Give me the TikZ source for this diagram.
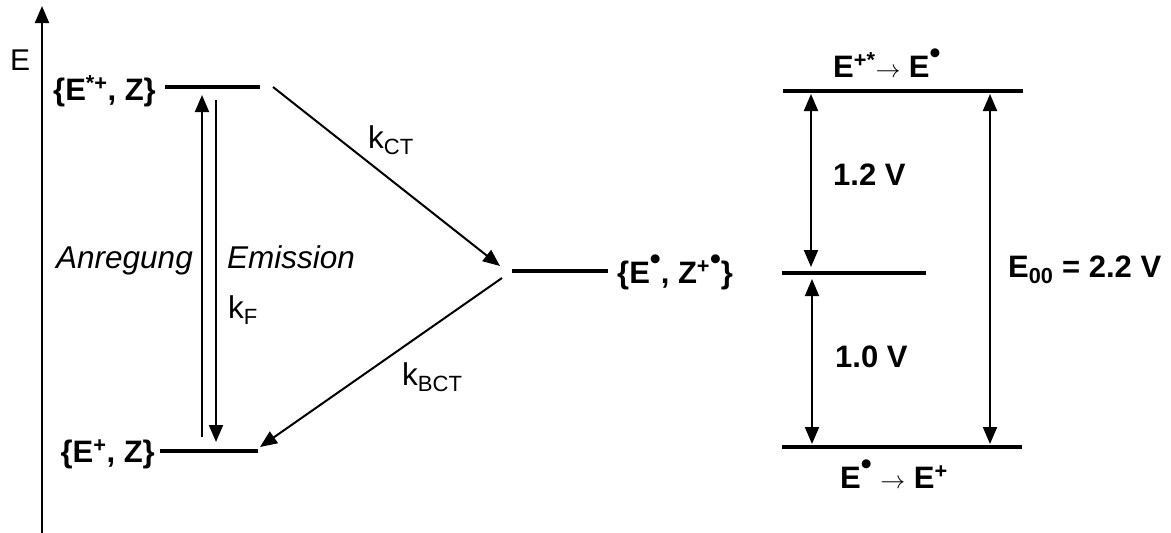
\documentclass[tikz,border=0pt]{standalone}
\usepackage{fontspec}
\setmainfont{Liberation Sans}
\usetikzlibrary{arrows.meta, positioning}
\newcommand{\radot}{\raisebox{0.42em}{\textbullet}}

\begin{document}
\begin{tikzpicture}[
    x=1pt, y=-1pt,
    font=\fontsize{31.5}{36}\selectfont,
    statelab/.style={inner sep=0pt, font=\fontsize{31}{36}\selectfont\bfseries},
    ratelab/.style={inner sep=0pt},
    levelline/.style={draw, line width=3.5pt},
    line/.style={draw, line width=2pt, -{Triangle[length=17pt, width=14pt]}},
    gapline/.style={draw, line width=2pt, {Triangle[length=17pt, width=14pt]}-{Triangle[length=17pt, width=14pt]}}
]
    \useasboundingbox (0,0) rectangle (1171,533);

    % Coordinates
    \coordinate (axB) at (42,533);
    \coordinate (axT) at (42,6);
    \coordinate (exA) at (165,87);
    \coordinate (exB) at (260,87);
    \coordinate (gsA) at (160,451);
    \coordinate (gsB) at (258,451);
    \coordinate (ctA) at (512,271);
    \coordinate (ctB) at (608,271);
    \coordinate (rtA) at (783,91);
    \coordinate (rtB) at (1023,91);
    \coordinate (rmA) at (782,273);
    \coordinate (rmB) at (926,273);
    \coordinate (rbA) at (782,447);
    \coordinate (rbB) at (1022,447);

    % Nodes
    \node [ratelab, anchor=base west, font=\fontsize{30}{34}\selectfont] (elab) at (10,70) {E};
    \node [statelab, anchor=base east] (exlab) at (156,100) {\{E\textsuperscript{*+}, Z\}};
    \node [statelab, anchor=base east] (gslab) at (155,462) {\{E\textsuperscript{+}, Z\}};
    \node [statelab, anchor=base west] (ctlab) at (617,283) {\{E\radot, Z\textsuperscript{+}\radot\}};
    \node [statelab, anchor=base west] (rtlab) at (833,77) {E\textsuperscript{+*}$\rightarrow$ E\radot};
    \node [statelab, anchor=base west] (rblab) at (840,488) {E\radot{} $\rightarrow$ E\textsuperscript{+}};
    \node [statelab, anchor=base west] (v12) at (833,185) {1.2 V};
    \node [statelab, anchor=base west] (v10) at (835,367) {1.0 V};
    \node [statelab, anchor=base west] (e00) at (1008,277) {E\textsubscript{00} = 2.2 V};
    \node [ratelab, anchor=base east] (anr) at (193,268) {\itshape Anregung};
    \node [ratelab, anchor=base west] (emi) at (227,268) {\itshape Emission};
    \node [ratelab, anchor=base west] (kf) at (228,318) {k\textsubscript{F}};
    \node [ratelab, anchor=base west] (kct) at (368,148) {k\textsubscript{CT}};
    \node [ratelab, anchor=base west] (kbct) at (402,385) {k\textsubscript{BCT}};

    % Levels
    \path [levelline] (exA) -- (exB);
    \path [levelline] (gsA) -- (gsB);
    \path [levelline] (ctA) -- (ctB);
    \path [levelline] (rtA) -- (rtB);
    \path [levelline] (rmA) -- (rmB);
    \path [levelline] (rbA) -- (rbB);

    % Paths
    \path [line] (axB) -- (axT);
    \path [line] (202,437) coordinate (anrA) -- (202,95) coordinate (anrB);
    \path [line] (216,100) coordinate (emiA) -- (216,442) coordinate (emiB);
    \path [line] (273,87) coordinate (ctS) -- (500,266) coordinate (ctE);
    \path [line] (502,278) coordinate (bctS) -- (260,447) coordinate (bctE);
    \path [gapline] (811,94) coordinate (g1A) -- (811,267) coordinate (g1B);
    \path [gapline] (812,279) coordinate (g2A) -- (812,444) coordinate (g2B);
    \path [gapline] (990,94) coordinate (g3A) -- (990,444) coordinate (g3B);
\end{tikzpicture}
\end{document}
